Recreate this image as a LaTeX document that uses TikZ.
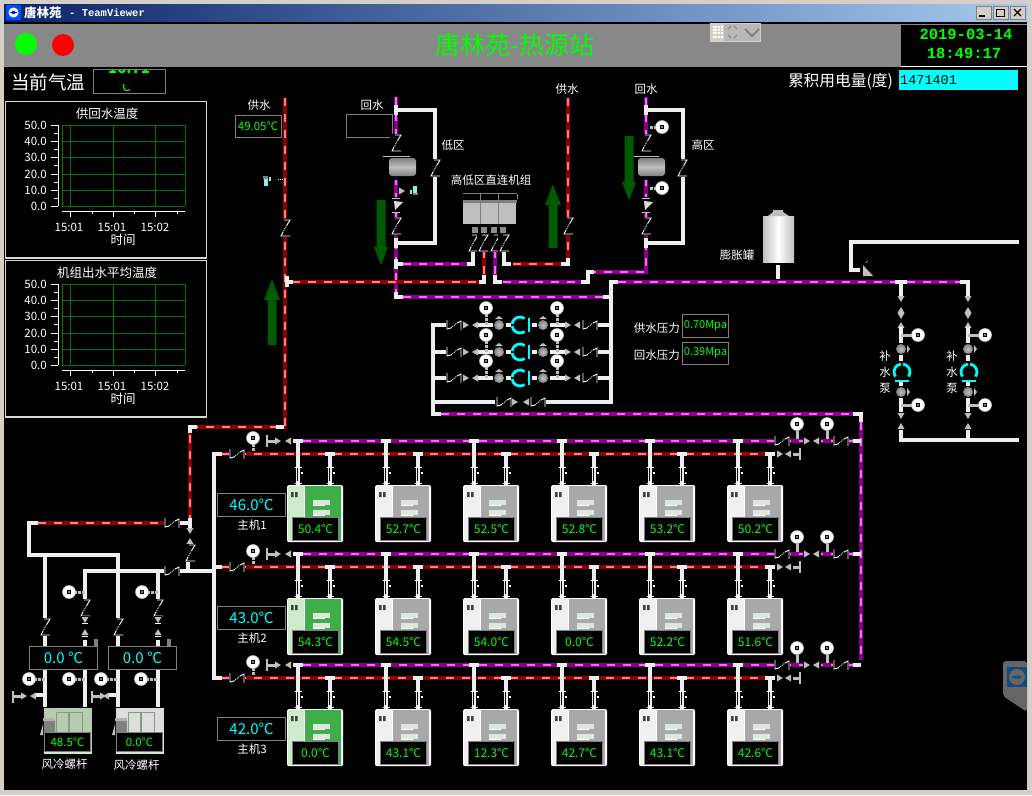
\documentclass[tikz,border=0pt]{standalone}
\usepackage{fontspec}
\setmainfont{Noto Sans CJK SC}
\newfontfamily\monofont{Liberation Mono}
\definecolor{framegray}{HTML}{D4D0C8}
\definecolor{barnavy}{HTML}{0A246A}
\definecolor{barblue}{HTML}{A6CAF0}
\definecolor{panelgray}{HTML}{888888}
\definecolor{pipered}{HTML}{8B0000}
\definecolor{pipepink}{HTML}{FF8080}
\definecolor{pipepurple}{HTML}{8B008B}
\definecolor{pipeviolet}{HTML}{FF66FF}
\definecolor{pipewhite}{HTML}{EEEEEE}
\definecolor{gridgreen}{HTML}{007800}
\definecolor{arrowgreen}{HTML}{005A00}
\definecolor{unitgreen}{HTML}{3FAE49}
\definecolor{unitmint}{HTML}{CDEBCB}
\definecolor{unitgray}{HTML}{A9A9A9}
\definecolor{unitpale}{HTML}{F0F0F0}
\definecolor{slatpale}{HTML}{DCE8DC}
\definecolor{litcyan}{HTML}{00FFFF}
\definecolor{litgreen}{HTML}{00FF00}
\definecolor{litred}{HTML}{FF0000}
\definecolor{palecyan}{HTML}{80F0F0}
\definecolor{tabgray}{HTML}{666666}
\definecolor{tabblue}{HTML}{104A80}
\definecolor{aircoolgreen}{HTML}{B5CCB0}
\definecolor{aircoolgray}{HTML}{DDDDDD}
\definecolor{aircoolline}{HTML}{7F9F7F}
\tikzset{
  redpipe/.style={line width=4.6pt,draw=pipered,postaction={draw=pipepink,line width=2pt,dash pattern=on 8pt off 8pt}},
  purplepipe/.style={line width=4.6pt,draw=pipepurple,postaction={draw=pipeviolet,line width=2pt,dash pattern=on 8pt off 8pt}},
  whitepipe/.style={line width=3.6pt,draw=pipewhite},
  stubline/.style={line width=3pt,draw=lightgray},
  valveline/.style={line width=.9pt,draw=white},
  readout/.style={draw=gray,line width=1pt,fill=black},
  labeltext/.style={text=white,inner sep=0pt,font=\fontsize{11.5}{12}\selectfont},
  greentext/.style={text=litgreen,inner sep=0pt,font=\fontsize{12}{12}\selectfont},
  cyantext/.style={text=litcyan,inner sep=0pt,font=\fontsize{15}{15}\selectfont},
  tipfill/.style={fill=lightgray},
}
% Round gauge with its dark centre
\newcommand{\gaugeat}[2]{
  \fill[white,draw=lightgray,line width=.6pt] (#1,#2) circle[radius=6.5];
  \fill[black] (#1-2,#2-2) rectangle (#1+2,#2+2);
  \fill[white] (#1,#2) circle[radius=.8];
}
% Check valve, cuts the pipe behind it
\newcommand{\checkat}[2]{
  \fill[black] (#1-6,#2-9) rectangle (#1+6,#2+9);
  \draw[valveline] (#1-1,#2-8) -- (#1+5,#2-8) -- (#1+2,#2-3);
  \draw[valveline,densely dotted] (#1+2,#2-3) -- (#1-2,#2+4);
  \draw[valveline] (#1-2,#2+4) -- (#1-4,#2+8) -- (#1+5,#2+8);
}
% Gate valve on a horizontal pipe
\newcommand{\gateat}[2]{
  \fill[black] (#1-8,#2-6) rectangle (#1+8,#2+6);
  \draw[valveline] (#1-7,#2-5) -- (#1-7,#2+4) -- (#1-3,#2+3);
  \draw[valveline,densely dotted] (#1-3,#2+3) -- (#1+3,#2-2);
  \draw[valveline] (#1+3,#2-2) -- (#1+7,#2-4) -- (#1+7,#2+5);
}
\newcommand{\tipat}[3]{
  \fill[tipfill,shift={(#1,#2)},rotate=#3] (-3,-3.5) -- (3,0) -- (-3,3.5) -- cycle;
}
% Grey ball with its small cap
\newcommand{\ballat}[3]{
  \fill[lightgray,shift={(#1,#2)},rotate=#3] (-4,-6) -- (4,-6) -- (0,-9) -- cycle;
  \shade[inner color=lightgray,outer color=gray] (#1,#2) circle[radius=5];
}
\newcommand{\pumpat}[3]{
  \begin{scope}[shift={(#1,#2)},rotate=#3]
    \draw[litcyan,line width=2.8pt] (55:8) arc[start angle=55,end angle=172,radius=8];
    \draw[litcyan,line width=2.8pt] (188:8) arc[start angle=188,end angle=305,radius=8];
    \draw[litcyan,line width=1.8pt] (9,-7) -- (9,7);
  \end{scope}
}
\newcommand{\tankat}[2]{
  \shade[top color=gray,bottom color=gray,middle color=lightgray,rounded corners=3pt] (#1,#2) rectangle (#1+27,#2+18);
  \draw[lightgray,line width=.8pt] (#1-6,#2-2) -- (#1+21,#2-2);
}
\newcommand{\bigarrow}[4]{
  \fill[arrowgreen] (#1-4.5,#2) -- (#1+4.5,#2) -- (#1+4.5,#3) -- (#1+#4,#3) -- (#1,#3+#4*2.6) -- (#1-#4,#3) -- (#1-4.5,#3) -- cycle;
}
\newcommand{\unitat}[5]{
  \fill[white,rounded corners=1.5pt] (#1,#2) rectangle (#1+56,#2+57);
  \fill[#3] (#1+1,#2+1) rectangle (#1+17,#2+56);
  \fill[#4] (#1+18,#2+1) rectangle (#1+54,#2+56);
  \fill[black!75] (#1+4,#2+7) rectangle (#1+6.5,#2+12) (#1+8,#2+7) rectangle (#1+10.5,#2+12);
  \foreach \sy in {15,25} {
    \fill[slatpale] (#1+26,#2+\sy) rectangle (#1+43,#2+\sy+5);
    \draw[white,line width=.7pt] (#1+26,#2+\sy+5.5) -- (#1+38,#2+\sy+5.5);
  }
  \node[readout,minimum width=46pt,minimum height=23pt,inner sep=0pt] (#5box) at (#1+28.5,#2+43.5) {};
}
\begin{document}
\begin{tikzpicture}[x=1pt,y=-1pt]
  \useasboundingbox (0,0) rectangle (1032,795);
  % Draw the window round the picture
  \fill[framegray] (0,0) rectangle (1032,795);
  \shade[left color=barnavy,right color=barblue] (4,4) rectangle (1028,22);
  \fill[black] (4,22) rectangle (1027,790);
  \fill[panelgray] (4,24) rectangle (1027,67);
  \fill[blue!70!cyan,rounded corners=1pt] (6,5) rectangle (21,20);
  \fill[white] (13.5,12.5) circle[radius=5];
  \draw[blue!70!black,<->,>=latex,line width=.8pt] (9.5,12.5) -- (17.5,12.5);
  \node[anchor=west,text=white,inner sep=0pt,font=\fontsize{12.5}{13}\bfseries\selectfont] (windowname) at (24,13) {唐林苑};
  \node[anchor=west,text=white,inner sep=0pt,font=\monofont\fontsize{10.5}{11}\bfseries\selectfont] (windowtail) at (69,13) {- TeamViewer};
  % Draw the window buttons
  \foreach \bx in {976,993,1010} {
    \fill[framegray,draw=gray,line width=.5pt] (\bx,6) rectangle (\bx+15,19);
  }
  \draw[black,line width=1.4pt] (979,16) -- (985,16);
  \draw[black,line width=1pt] (996.5,9) rectangle (1004.5,16);
  \draw[black,line width=1.2pt] (1014,9) -- (1021,16) (1021,9) -- (1014,16);
  % Draw the top panel
  \fill[litgreen] (26,44) circle[radius=11];
  \fill[litred] (63,45) circle[radius=11];
  \node[text=litgreen,inner sep=0pt,font=\fontsize{25}{25}\selectfont] (stationname) at (515,45) {唐林苑-热源站};
  \fill[framegray] (710,23) rectangle (761,42);
  \fill[panelgray!60!white] (724,24) rectangle (760,41);
  \foreach \dx in {0,1,2,3} \foreach \dy in {0,1,2,3} {
    \fill[white] (712.5+\dx*2.8,26+\dy*3.2) rectangle +(2,2);
  }
  \draw[gray,line width=1pt] (728,29) -- (731,26) (737,29) -- (734,26) (728,35) -- (731,38) (737,35) -- (734,38);
  \draw[gray,line width=2pt] (745,29) -- (752,36) -- (759,29);
  \fill[black] (901,25) rectangle (1027,66);
  \draw[white,line width=1pt] (901,66.5) -- (1027,66.5);
  \node[text=litgreen,inner sep=0pt,font=\monofont\fontsize{15.5}{16}\bfseries\selectfont] (clockdate) at (966,34) {2019-03-14};
  \node[text=litgreen,inner sep=0pt,font=\monofont\fontsize{15.5}{16}\bfseries\selectfont] (clocktime) at (964,53) {18:49:17};
  % Draw the outdoor temperature
  \node[text=white,inner sep=0pt,font=\fontsize{18.5}{19}\selectfont] (outdoorlabel) at (48,82) {当前气温};
  \draw[gray,line width=1pt] (93,69) rectangle (165,93);
  \begin{scope}
    \clip (94,70) rectangle (164,92);
    \node[greentext,font=\fontsize{15}{15}\bfseries\selectfont] (outdoortemp) at (129,68) {16.71};
    \node[greentext,font=\fontsize{14}{14}\selectfont] (outdoorunit) at (124,86) {℃};
    \fill[black] (94,78) rectangle (164,84);
  \end{scope}
  \node[text=white,inner sep=0pt,anchor=east,font=\fontsize{15.7}{16}\selectfont] (powerlabel) at (893,81) {累积用电量(度)};
  \fill[litcyan] (899,70) rectangle (1018,90);
  \node[anchor=west,inner sep=0pt,text=black,font=\monofont\fontsize{13.5}{14}\selectfont] (powervalue) at (900,80) {1471401};
  % Draw the two trend panels
  \foreach \ty/\chartname/\tag in {0/供回水温度/a,159/机组出水平均温度/b} {
    \begin{scope}[shift={(0,\ty)}]
      \draw[white!85!black,line width=1.6pt] (5.5,101.5) rectangle (206.5,258);
      \node[labeltext,font=\fontsize{12.5}{13}\selectfont] (chartname\tag) at (107,114) {\chartname};
      \foreach \gy in {125,141,157,174,190,206} {
        \draw[gridgreen,line width=.8pt] (62,\gy) -- (185,\gy);
      }
      \foreach \gx in {62,70,113,155,185} {
        \draw[gridgreen,line width=.8pt] (\gx,125) -- (\gx,206);
      }
      \foreach \gy/\vlabel in {125/50.0,141/40.0,157/30.0,174/20.0,190/10.0,206/0.0} {
        \draw[white,line width=.8pt] (51,\gy) -- (58,\gy);
        \node[labeltext,anchor=east] (ylabel\tag\gy) at (47,\gy) {\vlabel};
      }
      \foreach \gy in {133,149,165,182,198} {
        \draw[white,line width=.8pt] (54,\gy) -- (58,\gy);
      }
      \draw[white,line width=.8pt] (58,125) -- (58,206);
      \draw[white,line width=.8pt] (62,211) -- (185,211);
      \foreach \gx in {70,113,155} {
        \draw[white,line width=.8pt] (\gx,211) -- (\gx,217);
      }
      \foreach \gx in {92,134,177} {
        \draw[white,line width=.8pt] (\gx,211) -- (\gx,214);
      }
      \foreach \gx/\xlabel in {69/15:01,112/15:01,155/15:02} {
        \node[labeltext] (xlabel\tag\gx) at (\gx,227) {\xlabel};
      }
      \node[labeltext,font=\fontsize{12.5}{13}\selectfont] (timelabel\tag) at (123,240) {时间};
    \end{scope}
  }
  % Draw the red and purple mains
  \draw[redpipe] (285,98) -- (285,427) -- (190,427) -- (190,518);
  \draw[redpipe] (38,523) -- (165,523);
  \draw[purplepipe] (396,97) -- (396,292);
  \draw[redpipe] (292,282) -- (480,282);
  \draw[redpipe] (484,250) -- (484,278);
  \draw[redpipe] (513,264) -- (561,264);
  \draw[redpipe] (568,98) -- (568,258);
  \draw[purplepipe] (403,264) -- (467,264);
  \draw[purplepipe] (495,250) -- (495,277);
  \draw[purplepipe] (503,282) -- (582,282);
  \draw[purplepipe] (588,272) -- (646,272) -- (646,97);
  \draw[purplepipe] (403,297) -- (603,297);
  \draw[purplepipe] (618,282) -- (895,282);
  \draw[purplepipe] (907,282) -- (960,282);
  \draw[purplepipe] (441,414) -- (853,414);
  \draw[purplepipe] (861,422) -- (861,660);
  % Draw the white branches of the upper zones
  \draw[whitepipe] (401,110) -- (435,110) -- (435,243) -- (401,243);
  \draw[whitepipe] (649,110) -- (683,110) -- (683,243) -- (649,243);
  \draw[whitepipe] (396,105) -- (396,115) (396,110) -- (402,110) (396,238) -- (396,248) (396,243) -- (402,243) (396,259) -- (396,269) (396,264) -- (403,264);
  \draw[whitepipe] (646,105) -- (646,115) (646,110) -- (650,110) (646,238) -- (646,248) (646,243) -- (650,243);
  \draw[whitepipe] (396,292) -- (396,297) -- (403,297);
  \draw[whitepipe] (473,250) -- (473,264) -- (467,264);
  \draw[whitepipe] (504,250) -- (504,264) -- (511,264);
  \draw[whitepipe] (561,264) -- (568,264) -- (568,258);
  \draw[whitepipe] (479,282) -- (484,282) -- (484,275);
  \draw[whitepipe] (495,275) -- (495,282) -- (502,282);
  \draw[whitepipe] (581,282) -- (588,282) -- (588,272) -- (594,272);
  \draw[whitepipe] (287,276) -- (287,287) (287,282) -- (293,282);
  \draw[whitepipe] (284,427) -- (276,427);
  \draw[whitepipe] (190,433) -- (190,427) -- (197,427);
  % Draw the pump loop
  \draw[whitepipe] (618,282) -- (611,282) -- (611,402) -- (546,402);
  \draw[whitepipe] (603,297) -- (611,297);
  \draw[whitepipe] (495,402) -- (433,402);
  \draw[whitepipe] (441,325) -- (433,325) -- (433,414) -- (441,414);
  \foreach \py/\tag in {325/a,352/b,378/c} {
    \draw[whitepipe] (433,\py) -- (446,\py) (478,\py) -- (493,\py) (506,\py) -- (511,\py) (532,\py) -- (537,\py) (550,\py) -- (565,\py) (597,\py) -- (611,\py);
    \draw[stubline,dashed,dash pattern=on 3pt off 1pt] (486,\py-11) -- (486,\py) (557,\py-11) -- (557,\py);
    \gaugeat{486}{\py-17}
    \gaugeat{557}{\py-17}
    \gateat{454}{\py}
    \gateat{590}{\py}
    \tipat{466}{\py}{0}
    \tipat{475}{\py}{180}
    \tipat{568}{\py}{0}
    \tipat{577}{\py}{180}
    \ballat{499}{\py}{0}
    \ballat{543}{\py}{0}
    \pumpat{520}{\py}{0}
  }
  \gateat{504}{402}
  \gateat{538}{402}
  \tipat{515}{402}{0}
  \tipat{526}{402}{180}
  % Draw the pressure readouts
  \node[labeltext,anchor=east] (pressurelabela) at (680,328) {供水压力};
  \node[labeltext,anchor=east] (pressurelabelb) at (680,355) {回水压力};
  \node[draw=gray,line width=1pt,fill=black,minimum width=46pt,minimum height=23pt,inner sep=0pt,text=litgreen,font=\fontsize{11}{11}\selectfont] (pressurea) at (705.5,326) {0.70Mpa};
  \node[draw=gray,line width=1pt,fill=black,minimum width=46pt,minimum height=22pt,inner sep=0pt,text=litgreen,font=\fontsize{11}{11}\selectfont] (pressureb) at (705.5,353) {0.39Mpa};
  % Draw the upper zones
  \checkat{285}{228}
  \draw[white,line width=.8pt,densely dotted] (278,179) -- (283,179);
  \fill[palecyan] (264,179) rectangle (268,186);
  \fill[gray] (263,176) rectangle (268,179);
  \fill[palecyan] (269,177) rectangle (271,181);
  \node[labeltext] (supplyname) at (259,105) {供水};
  \node[draw=gray,line width=1pt,fill=black,minimum width=46pt,minimum height=22pt,inner sep=0pt,text=litgreen,font=\fontsize{11.5}{12}\selectfont] (supplytemp) at (258,126) {49.05℃};
  \node[labeltext] (returnname) at (372,105) {回水};
  \node[draw=gray,line width=1pt,minimum width=46pt,minimum height=23pt,inner sep=0pt] (returntemp) at (369.5,125.5) {};
  \node[labeltext] (lowzone) at (453,145) {低区};
  \node[labeltext] (highzone) at (703,145) {高区};
  \node[labeltext] (supplyhigh) at (567,89) {供水};
  \node[labeltext] (returnhigh) at (646,89) {回水};
  \node[labeltext] (directunit) at (491,180) {高低区直连机组};
  \foreach \cx in {396,646} {
    \fill[black] (\cx-5,151) rectangle (\cx+5,180);
    \checkat{\cx}{143}
    \checkat{\cx}{226}
    \fill[black] (\cx-6,197) rectangle (\cx+8,212);
    \draw[lightgray,line width=.8pt] (\cx-4,198) -- (\cx+4,198) (\cx-4,212) -- (\cx+4,212);
    \fill[white!85!black] (\cx-2,201) -- (\cx+7,202) -- (\cx-1,210) -- cycle;
  }
  \tankat{389}{158}
  \tankat{638}{158}
  \checkat{435}{168}
  \checkat{682}{168}
  \checkat{568}{226}
  \draw[stubline,dashed,dash pattern=on 3pt off 1pt] (650,127) -- (657,127) (650,188) -- (657,188);
  \gaugeat{662}{127}
  \gaugeat{662}{188}
  \draw[white,line width=.8pt,densely dotted] (399,191) -- (402,191);
  \tipat{402}{191}{0}
  \fill[palecyan] (413,186) rectangle (417,193);
  \fill[gray] (413,193) rectangle (418,195);
  \fill[palecyan] (410,190) rectangle (412,194);
  \bigarrow{381}{200}{247}{7}
  \bigarrow{629}{136}{182}{7}
  \bigarrow{553}{248}{205}{-8}
  \bigarrow{272}{345}{300}{-8}
  % Draw the direct unit
  \draw[gray,line width=.8pt] (463,193.5) -- (517,193.5) (480,193.5) -- (480,201) (498,193.5) -- (498,201) (517,193.5) -- (517,199);
  \fill[gray] (463,200) rectangle (517,203);
  \fill[lightgray] (463,203) rectangle (516,224);
  \draw[gray,line width=.8pt] (480,203) -- (480,224) (498,203) -- (498,224);
  \foreach \ux in {475,484,494,503} {
    \fill[gray!90] (\ux-3,227) rectangle (\ux+3,233);
  }
  \checkat{473}{243}
  \checkat{483}{243}
  \checkat{495}{243}
  \checkat{504}{243}
  % Draw the expansion tank and the make-up pumps
  \draw[whitepipe] (778,265) -- (778,279);
  \shade[left color=lightgray,right color=lightgray,middle color=white] (763,216) rectangle (794,262);
  \fill[lightgray] (768,216) -- (773,212) -- (773,210) -- (783,210) -- (783,212) -- (789,216) -- cycle;
  \node[labeltext] (tankname) at (737,255) {膨胀罐};
  \draw[whitepipe] (1019,242) -- (851,242) -- (851,270) -- (860,270);
  \fill[lightgray] (863,265) -- (873,276) -- (863,276) -- cycle;
  \draw[white,line width=.8pt,densely dotted] (866,263) -- (868,260);
  \draw[whitepipe] (895,282) -- (907,282) (901,282) -- (901,296);
  \draw[whitepipe] (960,282) -- (968,282) -- (968,296);
  \draw[whitepipe] (1019,440) -- (901,440) -- (901,430);
  \draw[whitepipe] (968,440) -- (968,430);
  \foreach \cx/\tag in {901/a,968/b} {
    \tipat{\cx}{299}{-90}
    \tipat{\cx}{310}{90}
    \tipat{\cx}{316}{-90}
    \tipat{\cx}{325}{90}
    \draw[whitepipe] (\cx,327) -- (\cx,343) (\cx,355) -- (\cx,361) (\cx,382) -- (\cx,386) (\cx,398) -- (\cx,412);
    \draw[stubline] (\cx,335) -- (\cx+12,335) (\cx,405) -- (\cx+12,405);
    \gaugeat{\cx+17}{335}
    \gaugeat{\cx+17}{405}
    \ballat{\cx}{349}{-90}
    \ballat{\cx}{392}{-90}
    \pumpat{\cx+1}{372}{-90}
    \tipat{\cx}{416}{-90}
    \tipat{\cx}{426}{90}
  }
  \foreach \ly/\ch in {356/补,372/水,388/泵} {
    \node[labeltext] (makeup\ch a) at (885,\ly) {\ch};
    \node[labeltext] (makeup\ch b) at (952,\ly) {\ch};
  }
  % Draw the three rows of units
  \draw[whitepipe] (222,454) -- (214,454) -- (214,678) -- (222,678);
  \foreach \py/\rowid/\rowtemp/\templist in {441/1/46.0/{50.4,52.7,52.5,52.8,53.2,50.2},554/2/43.0/{54.3,54.5,54.0,0.0,52.2,51.6},665/3/42.0/{0.0,43.1,12.3,42.7,43.1,42.6}} {
    \draw[redpipe] (222,\py+13) -- (765,\py+13);
    \draw[purplepipe] (303,\py) -- (853,\py);
    \draw[whitepipe] (214,\py+13) -- (222,\py+13);
    \gateat{237}{\py+13}
    \draw[stubline,dashed,dash pattern=on 3pt off 1pt] (253,\py+3) -- (253,\py+10);
    \gaugeat{253}{\py-3}
    \draw[lightgray,line width=1.4pt] (267,\py-6) -- (267,\py+6);
    \draw[stubline] (268,\py) -- (275,\py);
    \tipat{278}{\py}{0}
    \tipat{288}{\py}{180}
    \draw[whitepipe] (853,\py) -- (861,\py);
    \gateat{782}{\py}
    \gateat{841}{\py}
    \fill[black] (803,\py-3) rectangle (821,\py+3);
    \tipat{807}{\py}{0}
    \tipat{816}{\py}{180}
    \draw[stubline] (797,\py-10) -- (797,\py-2) (827,\py-10) -- (827,\py-2);
    \gaugeat{797}{\py-17}
    \gaugeat{827}{\py-17}
    \tipat{780}{\py+13}{0}
    \tipat{788}{\py+13}{180}
    \draw[stubline] (793,\py+13) -- (800,\py+13);
    \draw[lightgray,line width=1.4pt] (800,\py+7) -- (800,\py+19);
    \foreach \unittemp [count=\i from 0,evaluate=\i as \ux using 287+88*\i] in \templist {
      \ifnum\i=0 \def\unitleft{unitmint}\def\unitright{unitgreen}\else \def\unitleft{unitpale}\def\unitright{unitgray}\fi
      \draw[whitepipe] (\ux+6,\py) -- (\ux+16,\py);
      \draw[whitepipe] (\ux+11,\py) -- (\ux+11,\py+44);
      \draw[whitepipe] (\ux+38,\py+13) -- (\ux+48,\py+13);
      \draw[whitepipe] (\ux+43,\py+13) -- (\ux+43,\py+44);
      \foreach \pipex in {11,43} {
        \draw[black,line width=.8pt] (\ux+\pipex-1,\py+27) -- (\ux+\pipex-1,\py+40);
        \draw[white,line width=1pt] (\ux+\pipex-3.5,\py+26) -- (\ux+\pipex+3.5,\py+26) (\ux+\pipex-3.5,\py+42) -- (\ux+\pipex+3.5,\py+42);
        \fill[white] (\ux+\pipex+3,\py+31) rectangle +(2,2);
      }
      \unitat{\ux}{\py+44}{\unitleft}{\unitright}{unit\rowid\i}
      \node[greentext] (temp\rowid\i) at (unit\rowid\i box) {\unittemp ℃};
    }
    \node[draw=gray,line width=1pt,fill=black,minimum width=68pt,minimum height=23pt,inner sep=0pt,cyantext] (rowtemp\rowid) at (251.5,\py+64) {\rowtemp ℃};
    \node[labeltext] (rowname\rowid) at (252,\py+84) {主机\rowid};
  }
  \draw[whitepipe] (853,414) -- (861,414) -- (861,422);
  \draw[whitepipe] (853,665) -- (861,665);
  % Draw the air-cooled units
  \draw[whitepipe] (165,523) -- (190,523) (190,518) -- (190,528);
  \gateat{172}{523}
  \draw[whitepipe] (38,523) -- (29,523) -- (29,555) -- (118,555) -- (118,707);
  \draw[whitepipe] (45,555) -- (45,707);
  \draw[whitepipe] (85,707) -- (85,571) -- (214,571);
  \draw[whitepipe] (158,571) -- (158,707);
  \draw[whitepipe] (188,571) -- (188,562);
  \gateat{172}{571}
  \tipat{190}{531}{-90}
  \tipat{190}{541}{90}
  \checkat{190}{553}
  \foreach \cx in {85,158} {
    \draw[stubline,dashed,dash pattern=on 3pt off 1pt] (\cx,592) -- (\cx-12,592);
    \gaugeat{\cx-16}{592}
    \checkat{\cx}{608}
    \fill[black] (\cx-4,616) rectangle (\cx+4,640);
    \tipat{\cx}{620}{-90}
    \tipat{\cx}{632}{90}
    \draw[white,line width=1pt] (\cx-3,623) -- (\cx+3,623) (\cx-3,636) -- (\cx+3,636);
    \fill[gray] (\cx+9,639) rectangle (\cx+13,646);
  }
  \checkat{45}{627}
  \checkat{118}{627}
  \foreach \cx in {29,69,101,141} {
    \draw[stubline,dashed,dash pattern=on 3pt off 1pt] (\cx+5,679) -- (\cx+16,679);
    \gaugeat{\cx}{679}
  }
  \foreach \bx/\cx in {13/45,92/118} {
    \draw[lightgray,line width=1.4pt] (\bx,691) -- (\bx,703);
    \draw[stubline] (\bx+1,696) -- (\bx+8,696);
    \tipat{\bx+11}{696}{0}
    \tipat{\cx-12}{696}{180}
    \draw[whitepipe] (\cx-9,695) -- (\cx,695);
  }
  \node[draw=gray,line width=1pt,fill=black,minimum width=68pt,minimum height=23pt,inner sep=0pt,cyantext] (aircoolreada) at (63.5,657.5) {0.0 ℃};
  \node[draw=gray,line width=1pt,fill=black,minimum width=68pt,minimum height=23pt,inner sep=0pt,cyantext] (aircoolreadb) at (142.5,657.5) {0.0 ℃};
  \foreach \ax/\basecolor/\airtemp/\tag/\ly in {44/aircoolgreen/48.5/a/764,116/aircoolgray/0.0/b/765} {
    \fill[\basecolor] (\ax,708) rectangle (\ax+48,752);
    \draw[aircoolline,line width=.8pt] (\ax+12.5,712) rectangle (\ax+24,732) (\ax+25,712) rectangle (\ax+38,732);
    \fill[gray!60] (\ax-1,718) rectangle (\ax+11,721);
    \shade[top color=gray,middle color=white,bottom color=gray] (\ax,721) rectangle (\ax+11,731);
    \fill[lightgray] (\ax-4,735) -- (\ax-1,724) -- (\ax-1,735) -- cycle;
    \fill[unitmint] (\ax,752) rectangle (\ax+48,754);
    \node[draw=gray,line width=1pt,fill=black,minimum width=46pt,minimum height=19pt,inner sep=0pt,greentext,font=\fontsize{11.5}{12}\selectfont] (airtemp\tag) at (\ax+23.5,742) {\airtemp ℃};
    \node[labeltext] (airname\tag) at (\ax+20.5,\ly) {风冷螺杆};
  }
  % Draw the side tab
  \fill[tabgray,rounded corners=3pt] (1027,661) -- (1003,661) -- (1003,696) -- (1027,712) -- cycle;
  \fill[tabblue] (1007,667) rectangle (1027,687);
  \fill[tabgray] (1017,677) circle[radius=8];
  \draw[tabblue,<->,>=latex,line width=.9pt] (1011,677) -- (1023,677);
\end{tikzpicture}
\end{document}
